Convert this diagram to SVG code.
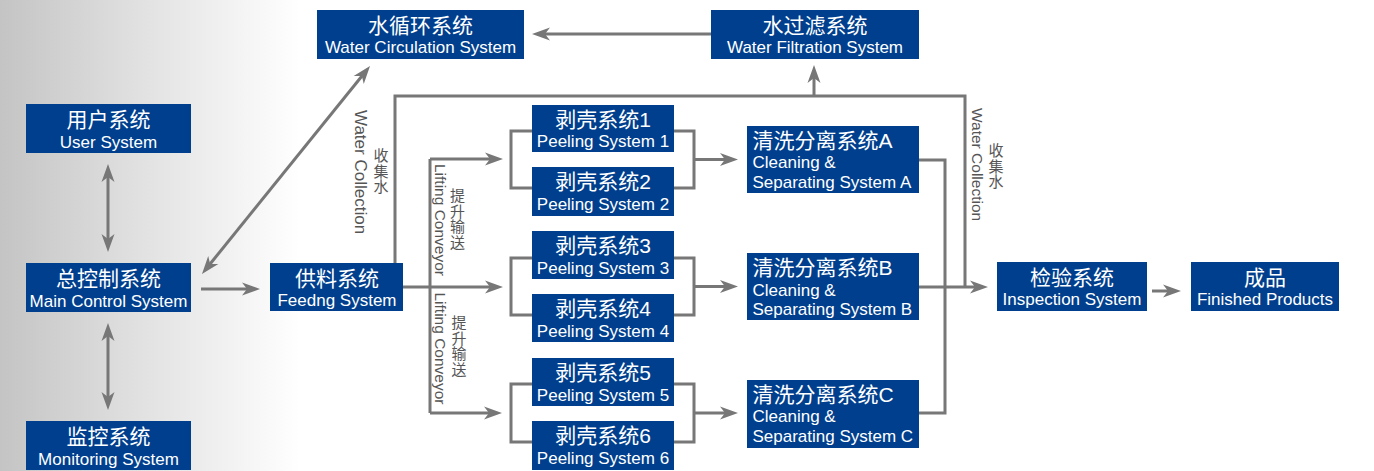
<svg xmlns="http://www.w3.org/2000/svg" width="1374" height="471" viewBox="0 0 1374 471">
<defs>
<linearGradient id="bg" x1="0" y1="0" x2="300" y2="0" gradientUnits="userSpaceOnUse">
<stop offset="0" stop-color="#c4c4c4"/>
<stop offset="0.45" stop-color="#e0e0e0"/>
<stop offset="1" stop-color="#ffffff"/>
</linearGradient>
<marker id="ah" viewBox="-12 -8 22 16" markerWidth="22" markerHeight="16" refX="0" refY="0" markerUnits="userSpaceOnUse" orient="auto-start-reverse">
<path d="M8,0 L-10,-6.5 L-5,0 L-10,6.5 Z" fill="#777"/>
</marker>
</defs>
<style>
.box{fill:#003f8e}
.zh{font-family:"Liberation Sans","Noto Sans CJK SC",sans-serif;font-size:21px;fill:#fff}
.en{font-family:"Liberation Sans","Noto Sans CJK SC",sans-serif;font-size:17px;fill:#fff}
.c{text-anchor:middle}
.ln{fill:none;stroke:#777;stroke-width:3}
.arr{marker-end:url(#ah)}
.dbl{marker-start:url(#ah);marker-end:url(#ah)}
.lbl{font-family:"Liberation Sans","Noto Sans CJK SC",sans-serif;font-size:15.5px;fill:#555}
.lblzh{font-family:"Noto Sans CJK SC",sans-serif;font-size:15px;fill:#555;writing-mode:vertical-rl;letter-spacing:0.5px}
</style>
<rect x="0" y="0" width="1374" height="471" fill="#fff"/>
<rect x="0" y="0" width="300" height="471" fill="url(#bg)"/>

<g id="connectors">
<path class="ln arr" d="M711,34 H540"/>
<path class="ln arr" d="M814,96 V73"/>
<path class="ln" d="M395,263 V96 H965 V287"/>
<path class="ln dbl" d="M108,172 V244"/>
<path class="ln dbl" d="M108,331 V402"/>
<path class="ln dbl" d="M207,267.8 L365,72.2"/>
<path class="ln arr" d="M201,289 H252"/>
<path class="ln arr" d="M403,287 H495"/>
<path class="ln" d="M430,159 V413"/>
<path class="ln arr" d="M430,159 H495"/>
<path class="ln arr" d="M430,413 H494"/>
<path class="ln" d="M532,131 H511 V188 H532"/>
<path class="ln" d="M674,131 H694 V188 H674"/>
<path class="ln" d="M532,258 H511 V315 H532"/>
<path class="ln" d="M674,258 H694 V315 H674"/>
<path class="ln" d="M532,384 H511 V442 H532"/>
<path class="ln" d="M674,384 H694 V442 H674"/>
<path class="ln arr" d="M694,159.5 H730"/>
<path class="ln arr" d="M694,286.5 H730"/>
<path class="ln arr" d="M694,413 H730"/>
<path class="ln" d="M919,160 H945 V413 H919"/>
<path class="ln arr" d="M919,287 H980"/>
<path class="ln arr" d="M1152,291 H1173"/>
<text class="lbl" style="font-size:17px" transform="translate(355,110) rotate(90)">Water Collection</text>
<text class="lblzh" x="381" y="148">收集水</text>
<text class="lbl" transform="translate(972,108) rotate(90)">Water Collection</text>
<text class="lblzh" x="996" y="143">收集水</text>
<text class="lbl" transform="translate(434.5,164) rotate(90)">Lifting Conveyor</text>
<text class="lblzh" x="457.5" y="188">提升输送</text>
<text class="lbl" transform="translate(435,292.5) rotate(90)">Lifting Conveyor</text>
<text class="lblzh" x="459" y="315">提升输送</text>
</g>

<g id="water-circulation"><rect class="box" x="317" y="10" width="207" height="49"/><text class="zh c" x="420.5" y="33">水循环系统</text><text class="en c" x="420.5" y="53">Water Circulation System</text></g>
<g id="water-filtration"><rect class="box" x="711" y="10" width="208" height="49"/><text class="zh c" x="815" y="33">水过滤系统</text><text class="en c" x="815" y="53">Water Filtration System</text></g>
<g id="user"><rect class="box" x="26" y="104" width="165" height="49"/><text class="zh c" x="108.5" y="126.5">用户系统</text><text class="en c" x="108.5" y="147.5">User System</text></g>
<g id="main-control"><rect class="box" x="26" y="263" width="165" height="49"/><text class="zh c" x="108.5" y="285.5">总控制系统</text><text class="en c" x="108.5" y="306.5">Main Control System</text></g>
<g id="monitoring"><rect class="box" x="26" y="421" width="165" height="49"/><text class="zh c" x="108.5" y="443.5">监控系统</text><text class="en c" x="108.5" y="464.5">Monitoring System</text></g>
<g id="feeding"><rect class="box" x="270" y="263" width="133" height="48"/><text class="zh c" x="337" y="285.5">供料系统</text><text class="en c" x="337" y="306">Feedng System</text></g>
<g id="peeling1"><rect class="box" x="532" y="105" width="142" height="47"/><text class="zh c" x="603" y="126.5">剥壳系统1</text><text class="en c" x="603" y="147">Peeling System 1</text></g>
<g id="peeling2"><rect class="box" x="532" y="167" width="142" height="49"/><text class="zh c" x="603" y="189">剥壳系统2</text><text class="en c" x="603" y="210">Peeling System 2</text></g>
<g id="peeling3"><rect class="box" x="532" y="231" width="142" height="48"/><text class="zh c" x="603" y="253">剥壳系统3</text><text class="en c" x="603" y="274">Peeling System 3</text></g>
<g id="peeling4"><rect class="box" x="532" y="294" width="142" height="48"/><text class="zh c" x="603" y="316">剥壳系统4</text><text class="en c" x="603" y="337">Peeling System 4</text></g>
<g id="peeling5"><rect class="box" x="532" y="358" width="142" height="48"/><text class="zh c" x="603" y="380">剥壳系统5</text><text class="en c" x="603" y="401">Peeling System 5</text></g>
<g id="peeling6"><rect class="box" x="532" y="421" width="142" height="49"/><text class="zh c" x="603" y="443">剥壳系统6</text><text class="en c" x="603" y="464">Peeling System 6</text></g>
<g id="cleaningA"><rect class="box" x="747" y="126" width="172" height="67"/><text class="zh" x="752.5" y="148">清洗分离系统A</text><text class="en" x="752.5" y="168">Cleaning &amp;</text><text class="en" x="752.5" y="188">Separating System A</text></g>
<g id="cleaningB"><rect class="box" x="747" y="253" width="172" height="67"/><text class="zh" x="752.5" y="275">清洗分离系统B</text><text class="en" x="752.5" y="295.5">Cleaning &amp;</text><text class="en" x="752.5" y="315">Separating System B</text></g>
<g id="cleaningC"><rect class="box" x="747" y="380" width="172" height="68"/><text class="zh" x="752.5" y="402">清洗分离系统C</text><text class="en" x="752.5" y="422">Cleaning &amp;</text><text class="en" x="752.5" y="442">Separating System C</text></g>
<g id="inspection"><rect class="box" x="997" y="262" width="150" height="49"/><text class="zh c" x="1072" y="284.5">检验系统</text><text class="en c" x="1072" y="305">Inspection System</text></g>
<g id="finished"><rect class="box" x="1191" y="262" width="148" height="49"/><text class="zh c" x="1265" y="284.5">成品</text><text class="en c" x="1265" y="305">Finished Products</text></g>
</svg>
